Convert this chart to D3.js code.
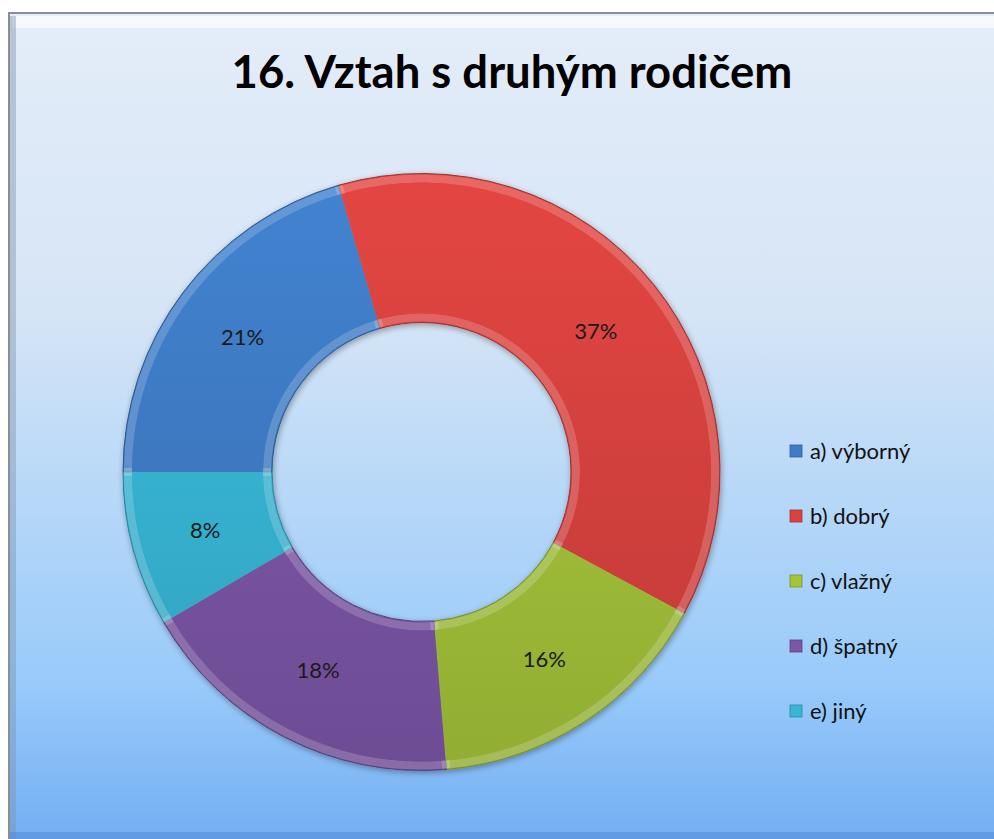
<!DOCTYPE html>
<html><head><meta charset="utf-8">
<script src="https://cdn.jsdelivr.net/npm/d3@7"></script>
<style>html,body{margin:0;padding:0;background:#fff;overflow:hidden}</style>
</head><body>
<svg id="c" width="994" height="839"></svg>
<script>
const categories = ["a) výborný","b) dobrý","c) vlažný","d) špatný","e) jiný"];
const values = [20.5, 37.3, 15.8, 17.9, 8.4];
const labels = ["21%","37%","16%","18%","8%"];
const title = "16. Vztah s druhým rodičem";
const colors = ["#3f7cc6","#d8423f","#a4c43a","#7d56a8","#38b6d6"];

const svg = d3.select("#c");
const defs = svg.append("defs");

// background gradient
const bg = defs.append("linearGradient").attr("id","bg").attr("x1",0).attr("y1",0).attr("x2",0).attr("y2",1);
bg.append("stop").attr("offset","0").attr("stop-color","#e4edf9");
bg.append("stop").attr("offset","0.35").attr("stop-color","#d6e5f6");
bg.append("stop").attr("offset","0.8").attr("stop-color","#98cafa");
bg.append("stop").attr("offset","1").attr("stop-color","#70acf2");

// frame
svg.append("rect").attr("x",8).attr("y",12).attr("width",1000).attr("height",840).attr("fill","#8a8f96");
svg.append("rect").attr("x",10).attr("y",14).attr("width",1000).attr("height",840).attr("fill","url(#bg)");
svg.append("rect").attr("x",12).attr("y",16).attr("width",1000).attr("height",12).attr("fill","#ffffff").attr("opacity",0.7);
svg.append("rect").attr("x",10).attr("y",16).attr("width",6).attr("height",830).attr("fill","#7f95b0").attr("opacity",0.45);
svg.append("rect").attr("x",10).attr("y",832).attr("width",1000).attr("height",7).attr("fill","#4f86d6").attr("opacity",0.5);

// title
const t = svg.append("text").attr("x",512).attr("y",88).attr("text-anchor","middle")
  .attr("font-family","Lato, 'Open Sans', sans-serif").attr("font-weight","bold")
  .attr("font-size",44).attr("fill","#000").text(title);
const tw = t.node().getComputedTextLength();
t.attr("font-size", 44*561/tw);

// shadow filter
const f = defs.append("filter").attr("id","sh").attr("x","-20%").attr("y","-20%").attr("width","140%").attr("height","140%");
f.append("feGaussianBlur").attr("in","SourceAlpha").attr("stdDeviation",3).attr("result","b");
f.append("feOffset").attr("in","b").attr("dx",1).attr("dy",2).attr("result","o");
f.append("feComponentTransfer").attr("in","o").attr("result","o2").append("feFuncA").attr("type","linear").attr("slope",0.35);
const m = f.append("feMerge"); m.append("feMergeNode").attr("in","o2"); m.append("feMergeNode").attr("in","SourceGraphic");

// slice gradients
colors.forEach((c,i)=>{
  const g = defs.append("linearGradient").attr("id","g"+i).attr("gradientUnits","userSpaceOnUse")
    .attr("x1",0).attr("y1",-300).attr("x2",0).attr("y2",300);
  g.append("stop").attr("offset","0").attr("stop-color", d3.color(c).brighter(0.15));
  g.append("stop").attr("offset","1").attr("stop-color", d3.color(c).darker(0.35));
});

const cx = 421.5, cy = 472, rOuter = 298.5, rInner = 149.5;
const pie = d3.pie().sort(null).value(d=>d)
  .startAngle(-Math.PI/2).endAngle(1.5*Math.PI);
const arcs = pie(values);
const arc = d3.arc().innerRadius(rInner).outerRadius(rOuter);
const g = svg.append("g").attr("transform",`translate(${cx},${cy})`);
g.append("g").attr("filter","url(#sh)").selectAll("path").data(arcs).join("path")
  .attr("d",arc).attr("fill",(d,i)=>"url(#g"+i+")")
  .attr("stroke",(d,i)=>d3.color(colors[i]).darker(0.9)).attr("stroke-width",1);
// bevel highlight
const arcB = d3.arc().innerRadius(rInner+5).outerRadius(rOuter-5);
g.append("g").selectAll("path").data(arcs).join("path")
  .attr("d",arcB).attr("fill","none")
  .attr("stroke","#ffffff").attr("stroke-opacity",0.18).attr("stroke-width",8);
g.append("g").selectAll("path").data(arcs).join("path")
  .attr("d",d3.arc().innerRadius(rInner+9).outerRadius(rOuter-9)).attr("fill",(d,i)=>"url(#g"+i+")");

const arcL = d3.arc().innerRadius((rInner+rOuter)/2).outerRadius((rInner+rOuter)/2);
g.append("g").selectAll("text").data(arcs).join("text")
  .attr("transform",d=>`translate(${arcL.centroid(d)})`)
  .attr("text-anchor","middle").attr("dy","0.35em")
  .attr("font-family","Lato, 'Open Sans', sans-serif").attr("font-size",22).attr("fill","#1a1a1a")
  .text((d,i)=>labels[i]);

// legend
const ly = d3.scalePoint().domain(categories).range([451, 711]);
const lg = svg.append("g").selectAll("g").data(categories).join("g")
  .attr("transform",d=>`translate(790,${ly(d)})`);
lg.append("rect").attr("x",0).attr("y",-6).attr("width",12).attr("height",12)
  .attr("fill",(d,i)=>colors[i]).attr("stroke",(d,i)=>d3.color(colors[i]).darker(0.8)).attr("stroke-width",0.8);
lg.append("text").attr("x",20).attr("dy","0.35em")
  .attr("font-family","Lato, 'Open Sans', sans-serif").attr("font-size",22).attr("fill","#111")
  .text(d=>d);
</script>
</body></html>
